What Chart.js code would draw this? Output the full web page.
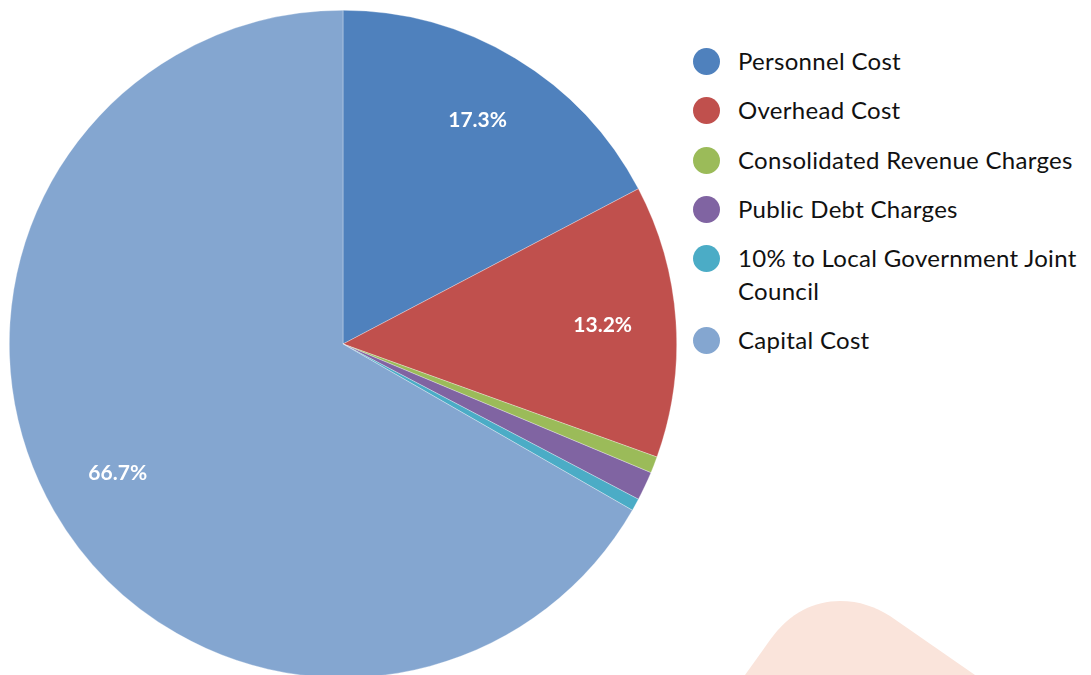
<!DOCTYPE html>
<html>
<head>
<meta charset="utf-8">
<title>Expenditure breakdown</title>
<script src="https://cdn.jsdelivr.net/npm/chart.js@4/dist/chart.umd.min.js"></script>
<style>
  html, body { margin: 0; padding: 0; background: #fff; }
  body { position: relative; width: 1091px; height: 675px; overflow: hidden; font-family: Lato, 'Open Sans', sans-serif; }
  #pieWrap { position: absolute; left: 9px; top: 10px; width: 668px; height: 668px; }
  #blob { position: absolute; left: 0; top: 0; }
  #legend { position: absolute; left: 693px; top: 44px; width: 398px; list-style: none; margin: 0; padding: 0; }
  #legend li { display: flex; align-items: flex-start; margin-bottom: 16.3px; }
  #legend .dot { flex: none; width: 27px; height: 27px; border-radius: 50%; margin-top: 4px; }
  #legend .txt { margin-left: 18px; width: 352px; font-size: 24px; letter-spacing: 0.3px; line-height: 33px; color: #111; }
</style>
</head>
<body>
<svg id="blob" width="1091" height="675">
  <path d="M745,675 L770,640 C790,612 815,601 840,601 C860,601 875,607 890,616 L975,675 Z" fill="#fae4db"/>
</svg>
<div id="pieWrap"><canvas id="pie" width="668" height="668"></canvas></div>
<ul id="legend"></ul>

<script>
// Budget shares (%)
const categories = [
  'Personnel Cost',
  'Overhead Cost',
  'Consolidated Revenue Charges',
  'Public Debt Charges',
  '10% to Local Government Joint Council',
  'Capital Cost'
];
const shares = [17.3, 13.2, 0.8, 1.4, 0.6, 66.7];
const colors = ['#4f81bd', '#c0504d', '#9bbb59', '#8064a2', '#4bacc6', '#84a6d0'];

// Percent labels inside the larger slices
const sliceLabels = {
  id: 'sliceLabels',
  afterDatasetsDraw(chart) {
    const { ctx } = chart;
    const meta = chart.getDatasetMeta(0);
    ctx.save();
    ctx.font = "bold 21px Lato, 'Open Sans', sans-serif";
    ctx.fillStyle = '#fff';
    ctx.textAlign = 'center';
    ctx.textBaseline = 'middle';
    meta.data.forEach((arc, i) => {
      const v = shares[i];
      if (v < 5) return;
      const mid = (arc.startAngle + arc.endAngle) / 2;
      const r = arc.outerRadius * 0.78;
      ctx.fillText(v.toFixed(1) + '%', arc.x + Math.cos(mid) * r, arc.y + Math.sin(mid) * r - 1);
    });
    ctx.restore();
  }
};

const chart = new Chart(document.getElementById('pie'), {
  type: 'pie',
  data: {
    labels: categories,
    datasets: [{
      data: shares,
      backgroundColor: colors,
      borderColor: 'rgba(255,255,255,0.5)',
      borderWidth: 0.6,
    }],
  },
  options: {
    responsive: false,
    animation: false,
    layout: { padding: 0 },
    plugins: {
      legend: { display: false },
      tooltip: { enabled: false },
    },
  },
  plugins: [sliceLabels],
});

// HTML legend built from the chart's own legend items
const legendEl = document.getElementById('legend');
chart.options.plugins.legend.labels.generateLabels(chart).forEach(item => {
  const li = document.createElement('li');
  li.innerHTML = '<span class="dot"></span><span class="txt"></span>';
  li.querySelector('.dot').style.background = item.fillStyle;
  li.querySelector('.txt').textContent = item.text;
  legendEl.appendChild(li);
});
</script>
</body>
</html>
